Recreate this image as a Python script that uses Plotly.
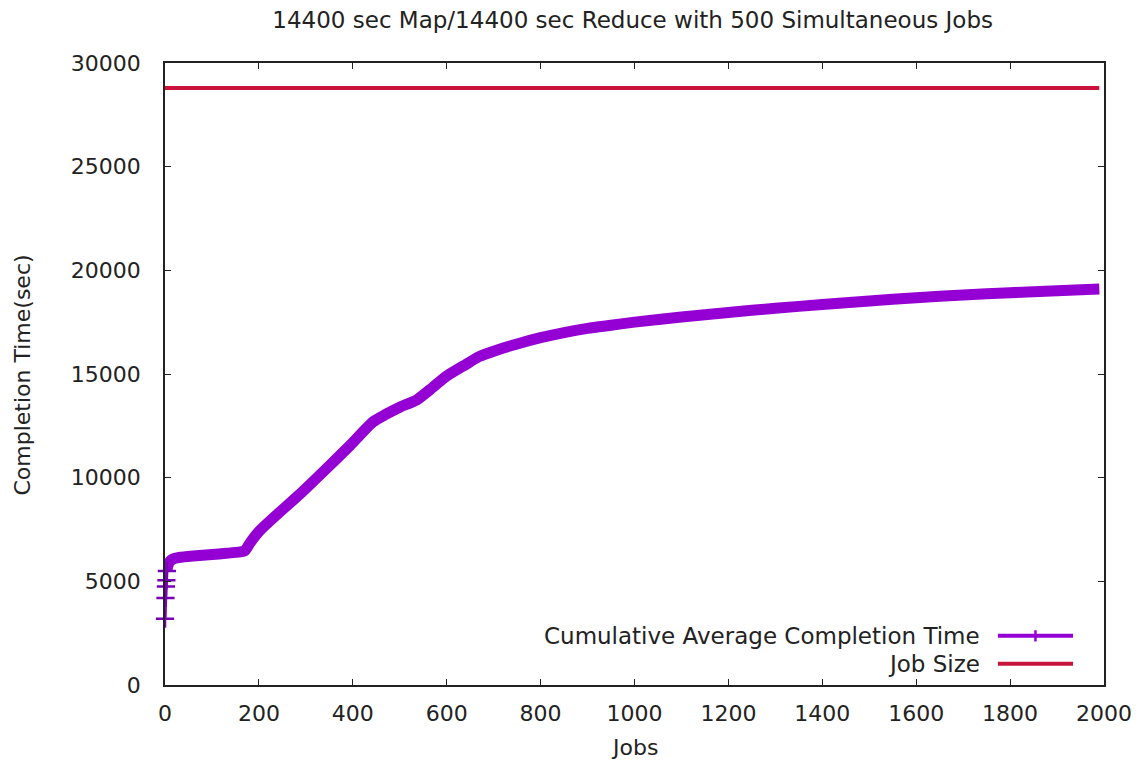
import plotly.graph_objects as go

# Cumulative average completion time per job (sec)
jobs = [0, 1, 2, 3, 4, 6, 10, 17, 30, 60, 100, 130, 160, 170, 181, 202, 240,
        287, 340, 394, 443, 470, 500, 536, 570, 600, 640, 670, 700, 750, 800,
        850, 900, 950, 1000, 1100, 1200, 1300, 1400, 1500, 1600, 1700, 1800,
        1900, 1990]
avg_completion = [3200, 4200, 4750, 5050, 5500, 5750, 5950, 6080, 6150, 6220,
                  6290, 6350, 6420, 6480, 6850, 7450, 8250, 9200, 10350, 11550,
                  12690, 13050, 13400, 13750, 14350, 14900, 15450, 15850, 16100,
                  16450, 16750, 17000, 17200, 17350, 17500, 17750, 17970, 18170,
                  18350, 18520, 18680, 18810, 18920, 19020, 19100]

# Job size reference line (map + reduce)
size_jobs = [0, 1990]
job_size = [28800, 28800]

x_ticks = list(range(0, 2001, 200))
y_ticks = list(range(0, 30001, 5000))

PURPLE = "#9400D3"
RED = "#C8143C"
FONT = "DejaVu Sans"
TXT = "#222222"

n_sparse = 5  # first few points drawn individually with their markers

fig = go.Figure()

# dense part of the cumulative-average series (thick band)
fig.add_trace(go.Scatter(
    x=jobs[n_sparse - 1:], y=avg_completion[n_sparse - 1:], mode="lines",
    line=dict(color=PURPLE, width=11, shape="spline", smoothing=0.6),
    showlegend=False, cliponaxis=False))

# first points with '+' markers
fig.add_trace(go.Scatter(
    x=jobs[:n_sparse], y=avg_completion[:n_sparse], mode="lines+markers",
    line=dict(color=PURPLE, width=3),
    marker=dict(symbol="cross-thin", size=13, line=dict(color="#7A00B8", width=2.5)),
    showlegend=False, cliponaxis=False))

fig.add_trace(go.Scatter(
    x=size_jobs, y=job_size, mode="lines",
    line=dict(color=RED, width=4), showlegend=False))

# Legend (gnuplot style: text right-aligned, sample to its right)
legend_rows = [("Cumulative Average Completion Time", PURPLE, 0.079),
               ("Job Size", RED, 0.034)]
for label, color, yy in legend_rows:
    fig.add_annotation(x=0.870, y=yy, xref="paper", yref="paper",
                       text=label, showarrow=False, xanchor="right",
                       yanchor="middle", font=dict(family=FONT, size=23, color=TXT))
    fig.add_shape(type="line", xref="paper", yref="paper",
                  x0=0.887, x1=0.967, y0=yy, y1=yy,
                  line=dict(color=color, width=4))
fig.add_shape(type="line", xref="paper", yref="paper",
              x0=0.927, x1=0.927, y0=0.079 - 0.009, y1=0.079 + 0.009,
              line=dict(color=PURPLE, width=2.5))

# Axis titles
fig.add_annotation(x=-0.152, y=0.498, xref="paper", yref="paper",
                   text="Completion Time(sec)", textangle=-90, showarrow=False,
                   xanchor="center", yanchor="middle",
                   font=dict(family=FONT, size=22, color=TXT))
fig.add_annotation(x=0.4995, y=-0.101, xref="paper", yref="paper",
                   text="Jobs", showarrow=False, xanchor="center", yanchor="middle",
                   font=dict(family=FONT, size=22, color=TXT))

axis_common = dict(
    showline=True, linecolor="#222222", linewidth=1.5, mirror="ticks",
    ticks="inside", ticklen=6, tickcolor="#222222", tickwidth=1,
    showgrid=False, zeroline=False,
    tickfont=dict(family=FONT, size=22, color=TXT),
)

fig.update_layout(
    width=1144, height=771,
    margin=dict(l=165, r=38, t=63, b=86),
    paper_bgcolor="white", plot_bgcolor="white",
    title=dict(text="14400 sec Map/14400 sec Reduce with 500 Simultaneous Jobs",
               x=0.553, xanchor="center", y=0.974, yanchor="middle",
               font=dict(family=FONT, size=23, color=TXT)),
    xaxis=dict(range=[0, 2000], tickvals=x_ticks,
               ticktext=[str(v) for v in x_ticks], ticklabelstandoff=8,
               **axis_common),
    yaxis=dict(range=[0, 30000], tickvals=y_ticks,
               ticktext=[str(v) for v in y_ticks], ticklabelstandoff=18,
               **axis_common),
)

fig.write_html("out.html")
